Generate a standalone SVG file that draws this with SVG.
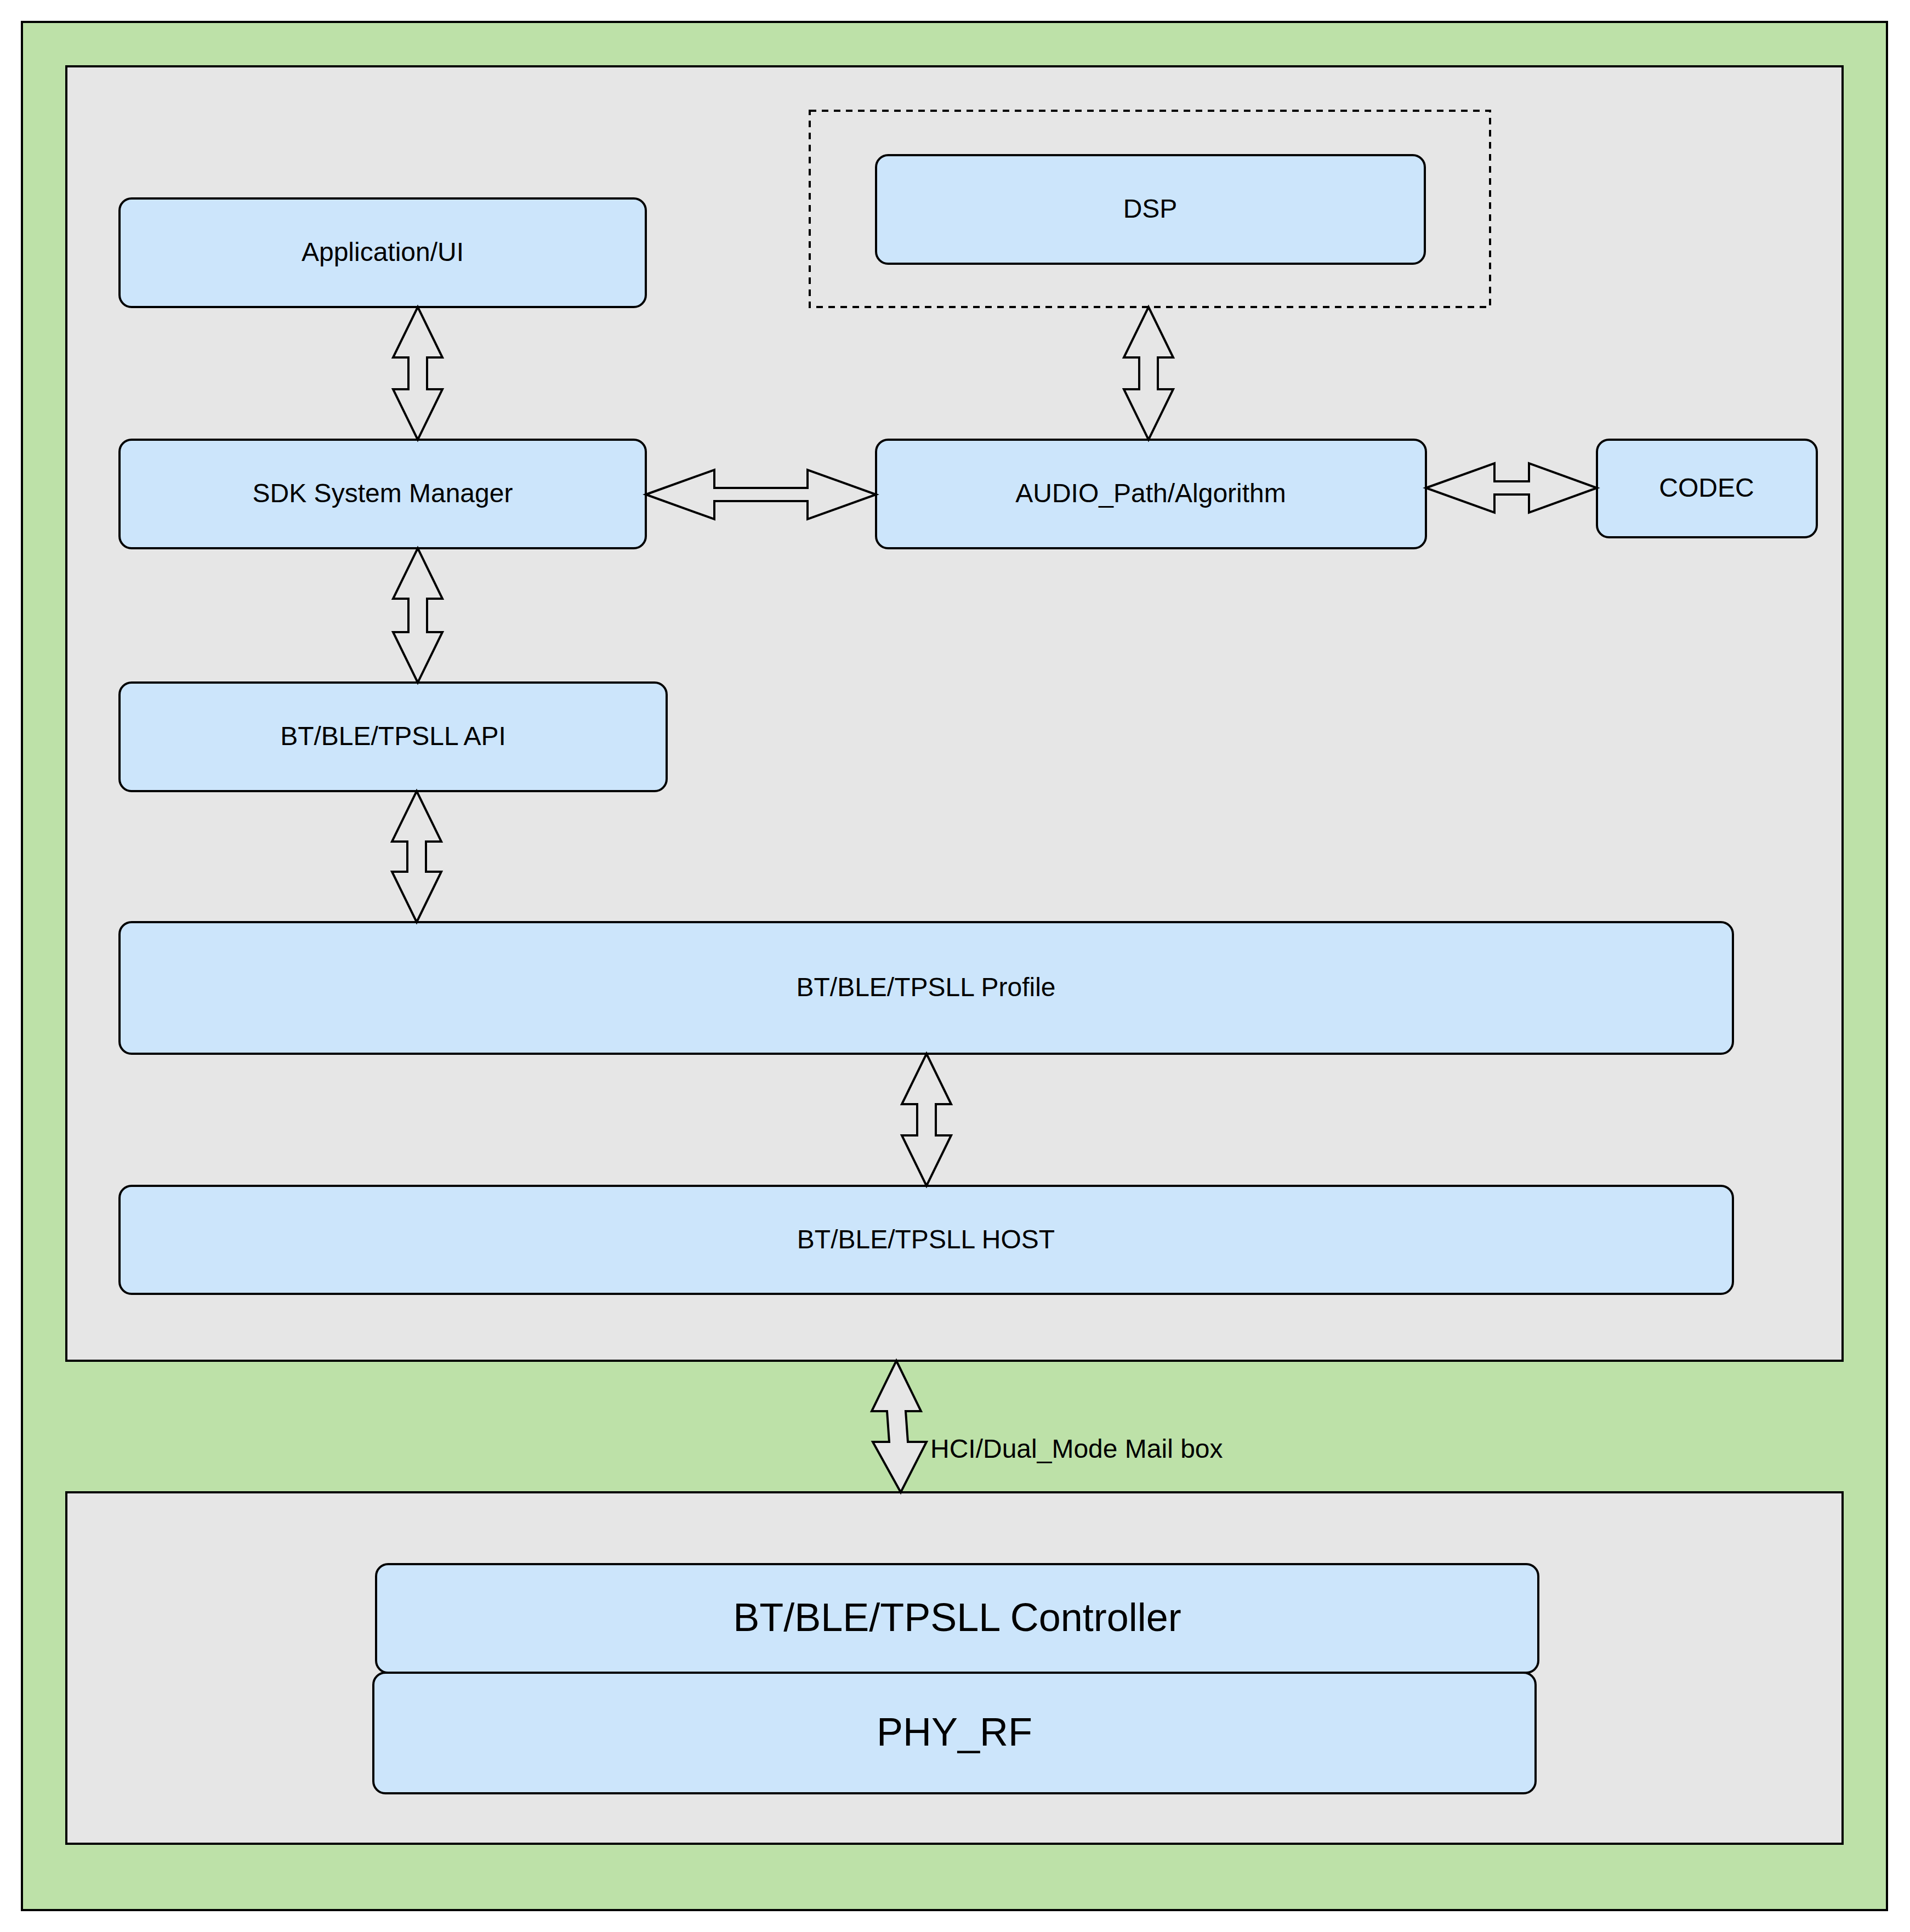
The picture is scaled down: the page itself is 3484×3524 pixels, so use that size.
<svg xmlns="http://www.w3.org/2000/svg" width="3484" height="3524" viewBox="0 0 3484 3524">
<style>
.box{fill:#cce5fb;stroke:#000;stroke-width:4}
.t{font-family:"Liberation Sans",Arial,sans-serif;font-size:48px;text-anchor:middle;dominant-baseline:central;fill:#000}
.big{font-size:72px}
.arr{fill:#e6e6e6;stroke:#000;stroke-width:4;stroke-linejoin:miter}
</style>
<rect x="40" y="40" width="3402" height="3444" fill="#bde1a8" stroke="#000" stroke-width="4"/>
<rect x="121" y="121" width="3240" height="2361" fill="#e6e6e6" stroke="#000" stroke-width="4"/>
<rect x="121" y="2722" width="3240" height="641" fill="#e6e6e6" stroke="#000" stroke-width="4"/>
<rect x="1477" y="202" width="1241" height="358" fill="none" stroke="#000" stroke-width="4" stroke-dasharray="12 10"/>
<g id="dsp"><rect class="box" x="1598" y="283" width="1001" height="198" rx="22"/><text class="t" x="2098" y="380">DSP</text></g>
<g id="app"><rect class="box" x="218" y="362" width="960" height="198" rx="22"/><text class="t" x="698" y="459">Application/UI</text></g>
<g id="sdk"><rect class="box" x="218" y="802" width="960" height="198" rx="22"/><text class="t" x="698" y="899">SDK System Manager</text></g>
<g id="audio"><rect class="box" x="1598" y="802" width="1003" height="198" rx="22"/><text class="t" x="2099" y="899">AUDIO_Path/Algorithm</text></g>
<g id="codec"><rect class="box" x="2913" y="802" width="401" height="178" rx="22"/><text class="t" x="3113" y="889">CODEC</text></g>
<g id="api"><rect class="box" x="218" y="1245" width="998" height="198" rx="22"/><text class="t" x="717" y="1342">BT/BLE/TPSLL API</text></g>
<g id="profile"><rect class="box" x="218" y="1682" width="2943" height="240" rx="22"/><text class="t" x="1689" y="1800">BT/BLE/TPSLL Profile</text></g>
<g id="host"><rect class="box" x="218" y="2163" width="2943" height="197" rx="22"/><text class="t" x="1689" y="2260">BT/BLE/TPSLL HOST</text></g>
<g id="controller"><rect class="box" x="686" y="2853" width="2120" height="198" rx="22"/><text class="t big" x="1746" y="2950">BT/BLE/TPSLL Controller</text></g>
<g id="phy"><rect class="box" x="681" y="3051" width="2120" height="220" rx="22"/><text class="t big" x="1741" y="3159">PHY_RF</text></g>
<g id="connectors">
<polygon class="arr" points="762,560 807,652 779,652 779,710 807,710 762,802 717,710 745,710 745,652 717,652"/>
<polygon class="arr" points="2095,560 2140,652 2112,652 2112,710 2140,710 2095,802 2050,710 2078,710 2078,652 2050,652"/>
<polygon class="arr" points="762,1000 807,1092 779,1092 779,1153 807,1153 762,1245 717,1153 745,1153 745,1092 717,1092"/>
<polygon class="arr" points="760,1443 805,1535 777,1535 777,1590 805,1590 760,1682 715,1590 743,1590 743,1535 715,1535"/>
<polygon class="arr" points="1690,1922 1735,2014 1707,2014 1707,2071 1735,2071 1690,2163 1645,2071 1673,2071 1673,2014 1645,2014"/>
<polygon class="arr" points="1635,2482 1680,2574 1652,2574 1656,2630 1690,2630 1643,2722 1592,2630 1622,2630 1618,2574 1590,2574"/>
<polygon class="arr" points="1178,902 1303,857 1303,890 1473,890 1473,857 1598,902 1473,947 1473,914 1303,914 1303,947"/>
<polygon class="arr" points="2601,890 2726,845 2726,878 2789,878 2789,845 2913,890 2789,935 2789,902 2726,902 2726,935"/>
</g>
<text class="t" x="1697" y="2642" style="text-anchor:start">HCI/Dual_Mode Mail box</text>
</svg>
